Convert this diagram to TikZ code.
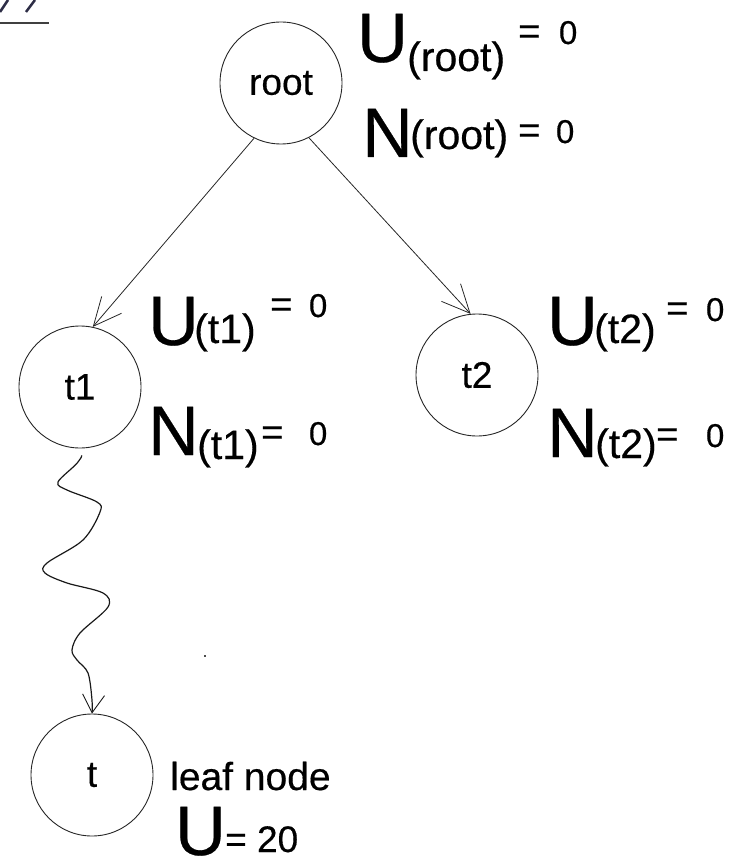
\documentclass[tikz,border=0pt]{standalone}
\usepackage{fontspec}
\usepackage{graphicx}
\setmainfont[FakeBold=0.4]{Liberation Sans}
\usetikzlibrary{arrows.meta}
\newcommand\fsz[1]{\fontsize{#1pt}{#1pt}\selectfont}
\newcommand\eqz[1]{{\fsz{38}= }\hspace{#1pt}{\fsz{33}0}}
\begin{document}
\begin{tikzpicture}[x=1pt,y=-1pt,
  circ/.style={draw=black!85, circle, line width=0.9pt, minimum size=122pt, inner sep=0pt, font=\fsz{37}},
  big/.style={anchor=base west, inner sep=0pt, font=\fsz{70}},
  sub/.style={anchor=base west, inner sep=0pt, font=\fsz{41}},
  eq/.style={anchor=base west, inner sep=0pt},
  lbl/.style={anchor=base west, inner sep=0pt, font=\fsz{39}},
  conn/.style={line width=0.8pt, draw=black!85, -{Straight Barb[length=28pt,width=26pt,line width=0.8pt]}},
  wave/.style={line width=1.2pt, draw=black!90, -{Straight Barb[length=18pt,width=22pt,line width=0.9pt]}},
]
\useasboundingbox (0,0) rectangle (729,861);

% top-left fragment
\draw[line width=2.5pt, color={rgb,255:red,45;green,45;blue,70}] (0,12) -- (8,0) (26,12) -- (35,0);
\draw[line width=2pt, color=black!75] (0,23) -- (49,23);

% nodes
\node[circ] (root) at (281,83) {root};
\node[circ] (t1) at (80,387) {t1};
\node[circ] (t2) at (477,375) {t2};
\node[circ] (t) at (92,775) {t};

% labels root
\node[big] (uroot) at (357,62) {U};
\node[sub] (uroots) at (407,71) {(root)};
\node[eq] (urootv) at (518,44) {\eqz{8}};
\node[big] (nroot) at (362,157) {N};
\node[sub] (nroots) at (410,149) {(root)};
\node[eq] (nrootv) at (518,143) {\eqz{5}};

% labels t1
\node[big] (ut1) at (148,345) {U};
\node[sub] (ut1s) at (194,343) {(t1)};
\node[eq] (ut1v) at (270,317) {\eqz{6}};
\node[big] (nt1) at (148,455) {N};
\node[sub] (nt1s) at (197,459) {(t1)};
\node[eq] (nt1v) at (261,445) {\eqz{15}};

% labels t2
\node[big] (ut2) at (547,345) {U};
\node[sub] (ut2s) at (594,343) {(t2)};
\node[eq] (ut2v) at (666,321) {\eqz{7}};
\node[big] (nt2) at (547,457) {N};
\node[sub] (nt2s) at (595,458) {(t2)};
\node[eq] (nt2v) at (656,447) {\eqz{17}};

% leaf
\node[lbl] (leaf) at (170,790) {leaf node};
\node[anchor=base west, inner sep=0pt, font=\fsz{70}] (ut) at (175,855) {U};
\node[anchor=base west, inner sep=0pt, font=\fsz{37}] (utv) at (225,852) {= 20};

% connectors
\draw[conn] (root.244) -- (t1.78);
\draw[conn] (root.297) -- (t2.96);
\draw[wave, shorten <=7pt] plot[smooth, tension=0.55] coordinates {(t1.272) (78,462) (58,482) (67,490) (97,502) (100,512) (83,540) (47,563) (45,573) (67,583) (103,593) (108,607) (80,633) (72,650) (77,660) (88,673) (92,700) (t.90)};

% stray dot
\fill[black!70] (204,655) rectangle (206,657);
\end{tikzpicture}
\end{document}
